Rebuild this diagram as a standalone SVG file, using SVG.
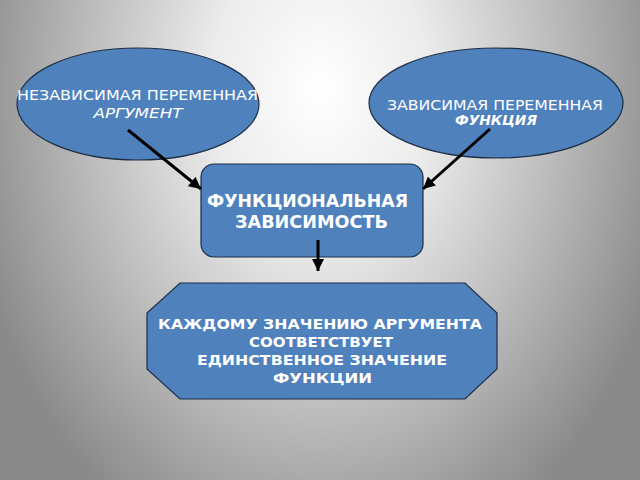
<svg xmlns="http://www.w3.org/2000/svg" width="640" height="480" viewBox="0 0 640 480">
<defs>
<radialGradient id="bg" gradientUnits="userSpaceOnUse" cx="320" cy="90" r="1" gradientTransform="translate(320 90) scale(360 500) translate(-320 -90)">
<stop offset="0" stop-color="#ffffff"/>
<stop offset="0.3" stop-color="#ececec"/>
<stop offset="0.65" stop-color="#bcbcbc"/>
<stop offset="1" stop-color="#8a8a8a"/>
</radialGradient>
<marker id="ah" markerUnits="userSpaceOnUse" markerWidth="14" markerHeight="12" refX="12" refY="6" orient="auto">
<path d="M0,0 L12,6 L0,12 Z" fill="#000"/>
</marker>
</defs>
<style>
.shape{fill:#4f81bd;stroke:#1e2f45;stroke-width:1.2}
.t{font-family:"DejaVu Sans","Liberation Sans",sans-serif;fill:#ffffff;text-anchor:middle}
.s{font-size:14px}
.b{font-weight:bold}
.conn{stroke:#000;stroke-width:3;fill:none}
</style>
<rect x="0" y="0" width="640" height="480" fill="url(#bg)"/>
<g id="node-argument">
<ellipse class="shape" cx="138" cy="104" rx="121" ry="56"/>
<text class="t s" x="137.5" y="100" textLength="241" lengthAdjust="spacingAndGlyphs">НЕЗАВИСИМАЯ ПЕРЕМЕННАЯ</text>
<text class="t s" x="138" y="118" font-style="italic" textLength="89" lengthAdjust="spacingAndGlyphs">АРГУМЕНТ</text>
</g>
<g id="node-function">
<ellipse class="shape" cx="496" cy="103" rx="127" ry="55"/>
<text class="t s" x="495" y="110" textLength="216" lengthAdjust="spacingAndGlyphs">ЗАВИСИМАЯ ПЕРЕМЕННАЯ</text>
<text class="t s b" x="496" y="125" font-style="italic" textLength="82" lengthAdjust="spacingAndGlyphs">ФУНКЦИЯ</text>
</g>
<g id="node-dependency">
<rect class="shape" x="201" y="164" width="222" height="93" rx="13" ry="13"/>
<text class="t b" font-size="18" x="307.5" y="207" textLength="201" lengthAdjust="spacingAndGlyphs">ФУНКЦИОНАЛЬНАЯ</text>
<text class="t b" font-size="18" x="311.5" y="228" textLength="153" lengthAdjust="spacingAndGlyphs">ЗАВИСИМОСТЬ</text>
</g>
<g id="node-definition">
<polygon class="shape" points="180,283 465,283 497,313 497,369 465,399 180,399 147,369 147,313"/>
<text class="t s b" x="320" y="329" textLength="324" lengthAdjust="spacingAndGlyphs">КАЖДОМУ ЗНАЧЕНИЮ АРГУМЕНТА</text>
<text class="t s b" x="321" y="347" textLength="144" lengthAdjust="spacingAndGlyphs">СООТВЕТСТВУЕТ</text>
<text class="t s b" x="322" y="365" textLength="250" lengthAdjust="spacingAndGlyphs">ЕДИНСТВЕННОЕ ЗНАЧЕНИЕ</text>
<text class="t s b" x="322.5" y="383" textLength="99" lengthAdjust="spacingAndGlyphs">ФУНКЦИИ</text>
</g>
<g id="connectors">
<line class="conn" x1="128" y1="130" x2="201" y2="189" marker-end="url(#ah)"/>
<line class="conn" x1="490" y1="129" x2="423" y2="189" marker-end="url(#ah)"/>
<line class="conn" x1="318" y1="240" x2="318" y2="271" marker-end="url(#ah)"/>
</g>
</svg>
